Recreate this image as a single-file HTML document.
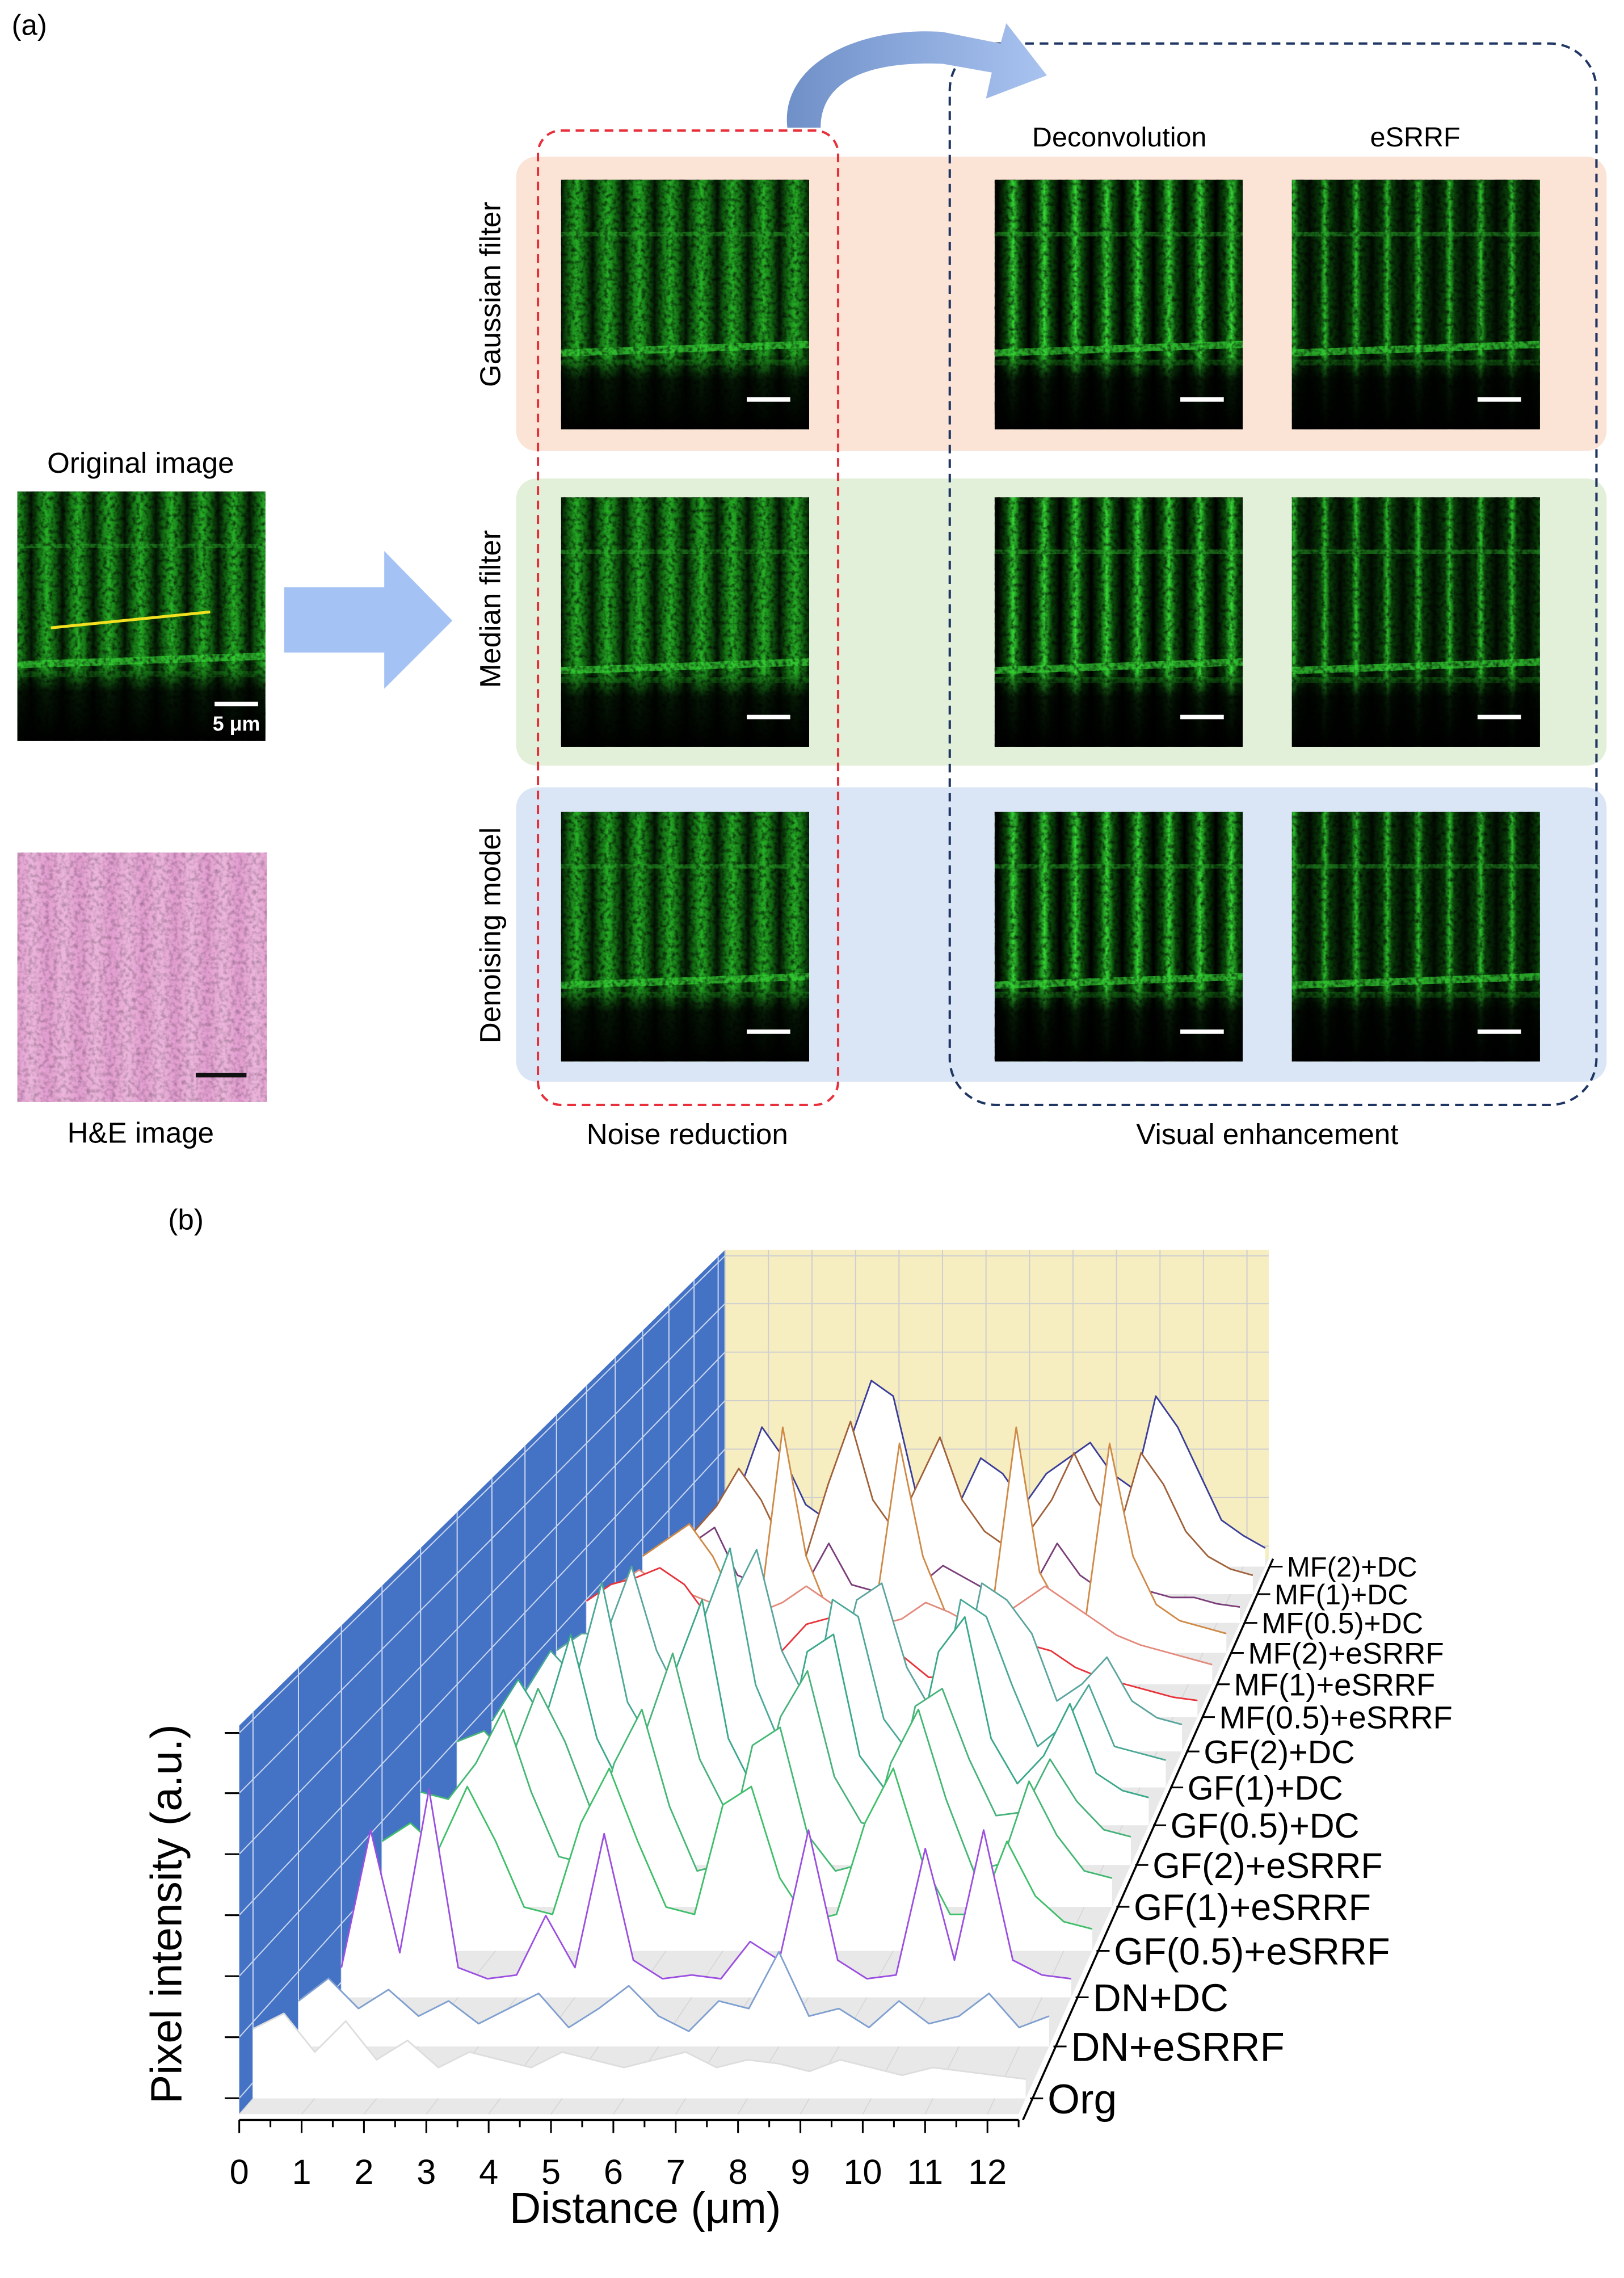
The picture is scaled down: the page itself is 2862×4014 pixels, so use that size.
<!DOCTYPE html>
<html><head><meta charset="utf-8"><style>
html,body{margin:0;padding:0;background:#fff;}
svg{display:block;}
</style></head><body>
<svg id="fig" xmlns="http://www.w3.org/2000/svg" width="2862" height="4014" viewBox="0 0 1120 1571" preserveAspectRatio="none" font-family="'Liberation Sans', sans-serif">
<defs>
  <linearGradient id="stripeG" gradientUnits="userSpaceOnUse" x1="0" y1="0" x2="21.5" y2="0" spreadMethod="repeat">
    <stop offset="0" stop-color="#041604"/><stop offset="0.25" stop-color="#136a13"/><stop offset="0.5" stop-color="#26b026"/><stop offset="0.75" stop-color="#136a13"/><stop offset="1" stop-color="#041604"/>
  </linearGradient>
  <linearGradient id="stripeB" gradientUnits="userSpaceOnUse" x1="0" y1="0" x2="21.5" y2="0" spreadMethod="repeat">
    <stop offset="0" stop-color="#000"/><stop offset="0.3" stop-color="#0c500c"/><stop offset="0.5" stop-color="#35d835"/><stop offset="0.7" stop-color="#0c500c"/><stop offset="1" stop-color="#000"/>
  </linearGradient>
  <linearGradient id="stripeT" gradientUnits="userSpaceOnUse" x1="0" y1="0" x2="21.5" y2="0" spreadMethod="repeat">
    <stop offset="0" stop-color="#020c02"/><stop offset="0.35" stop-color="#0a400a"/><stop offset="0.5" stop-color="#2cc02c"/><stop offset="0.65" stop-color="#0a400a"/><stop offset="1" stop-color="#020c02"/>
  </linearGradient>
  <linearGradient id="bottomDark" x1="0" y1="0" x2="0" y2="1">
    <stop offset="0" stop-color="#000" stop-opacity="0"/><stop offset="0.7" stop-color="#000" stop-opacity="0"/><stop offset="0.8" stop-color="#000" stop-opacity="0.85"/><stop offset="1" stop-color="#000" stop-opacity="1"/>
  </linearGradient>
  <linearGradient id="heStripe" gradientUnits="userSpaceOnUse" x1="0" y1="0" x2="22" y2="0" spreadMethod="repeat">
    <stop offset="0" stop-color="#ebb2da"/><stop offset="0.5" stop-color="#dc8dc8"/><stop offset="1" stop-color="#ebb2da"/>
  </linearGradient>
  <linearGradient id="arrowG" x1="0" y1="0" x2="1" y2="0">
    <stop offset="0" stop-color="#6f90c8"/><stop offset="1" stop-color="#a9c3f0"/>
  </linearGradient>
  <filter id="noise" x="0" y="0" width="100%" height="100%">
    <feTurbulence type="fractalNoise" baseFrequency="0.35" numOctaves="2" seed="3"/>
    <feColorMatrix values="0 0 0 0 0  0 0 0 0 0  0 0 0 0 0  2.2 0 0 0 -0.9"/>
  </filter>
</defs>

<text x="8" y="24" font-size="20">(a)</text>

<rect x="356" y="108" width="752" height="203" rx="14" fill="#fbe3d6"/>
<rect x="356" y="330" width="752" height="198" rx="14" fill="#e2efd9"/>
<rect x="356" y="543" width="752" height="203" rx="14" fill="#dae6f5"/>

<g id="tiles"></g>

<rect x="371" y="90" width="207" height="672" rx="16" fill="none" stroke="#e8303a" stroke-width="1.6" stroke-dasharray="6,4"/>
<rect x="655" y="30" width="446" height="732" rx="32" fill="none" stroke="#1f3563" stroke-width="1.6" stroke-dasharray="6,4"/>

<path d="M543,88 C538,45 590,18 650,22 L690,30 L694,16 L722,52 L680,68 L684,50 L650,44 C600,42 566,55 566,88 Z" fill="url(#arrowG)"/>
<polygon points="196,405 265,405 265,380 312,428 265,475 265,450 196,450" fill="#a4c2f4"/>

<text x="772" y="101" font-size="19" text-anchor="middle">Deconvolution</text>
<text x="976" y="101" font-size="19" text-anchor="middle">eSRRF</text>
<text transform="translate(345,203) rotate(-90)" font-size="20" text-anchor="middle">Gaussian filter</text>
<text transform="translate(345,420) rotate(-90)" font-size="20" text-anchor="middle">Median filter</text>
<text transform="translate(345,645) rotate(-90)" font-size="20" text-anchor="middle">Denoising model</text>
<text x="474" y="789" font-size="20" text-anchor="middle">Noise reduction</text>
<text x="874" y="789" font-size="20" text-anchor="middle">Visual enhancement</text>
<text x="97" y="326" font-size="20" text-anchor="middle">Original image</text>
<text x="97" y="788" font-size="20" text-anchor="middle">H&amp;E image</text>

<g>
  <rect x="12" y="588" width="172" height="172" fill="url(#heStripe)"/>
  <rect x="12" y="588" width="172" height="172" fill="#f0c0e0" opacity="0.3"/>
  <rect x="12" y="588" width="172" height="172" fill="#b04090" filter="url(#noise)" opacity="0.25"/>
  <rect x="135" y="740" width="35" height="3" fill="#111"/>
</g>

<text x="125" y="1320" font-size="30" text-anchor="middle" transform="rotate(-90 125 1320)">Pixel intensity (a.u.)</text>
<text x="445" y="1533" font-size="30" text-anchor="middle">Distance (μm)</text>
<text x="116" y="848" font-size="20">(b)</text>

<g id="chart"></g>

<script>
// ---------- chart data ----------
const seriesNames = ["Org","DN+eSRRF","DN+DC","GF(0.5)+eSRRF","GF(1)+eSRRF","GF(2)+eSRRF","GF(0.5)+DC","GF(1)+DC","GF(2)+DC","MF(0.5)+eSRRF","MF(1)+eSRRF","MF(2)+eSRRF","MF(0.5)+DC","MF(1)+DC","MF(2)+DC"];
const seriesColors = ["#dddddd","#7f9fd0","#9b4fe0","#3fbf6a","#43b873","#47b27a","#3aa88a","#4aa897","#5aa59e","#e8333a","#e38a7c","#cf8a48","#7a3d7a","#a0603a","#3a3d9a"];
const xTicks = [0,1,2,3,4,5,6,7,8,9,10,11,12];
const xStep = 0.5;
const sOrg = [0.18,0.22,0.12,0.2,0.1,0.15,0.08,0.12,0.1,0.08,0.12,0.1,0.08,0.1,0.12,0.08,0.1,0.09,0.07,0.1,0.08,0.06,0.08,0.07,0.06,0.05];
const sDnE = [0.12,0.18,0.1,0.15,0.08,0.12,0.06,0.1,0.14,0.05,0.1,0.16,0.08,0.04,0.12,0.1,0.25,0.08,0.1,0.05,0.12,0.06,0.08,0.14,0.05,0.08];
const sDnDC = [0.08,0.45,0.12,0.56,0.08,0.05,0.06,0.22,0.08,0.44,0.1,0.05,0.06,0.05,0.15,0.1,0.45,0.1,0.05,0.06,0.4,0.1,0.45,0.1,0.06,0.05];
const sGf05E = [0.3,0.35,0.28,0.45,0.3,0.12,0.1,0.35,0.5,0.3,0.12,0.1,0.4,0.45,0.2,0.08,0.1,0.35,0.5,0.25,0.1,0.1,0.3,0.15,0.08,0.06];
const sGf1E = [0.32,0.3,0.4,0.55,0.32,0.14,0.12,0.4,0.55,0.28,0.1,0.12,0.45,0.5,0.2,0.1,0.12,0.4,0.55,0.3,0.1,0.12,0.35,0.2,0.1,0.08];
const sGf2E = [0.35,0.38,0.3,0.5,0.35,0.15,0.14,0.38,0.6,0.3,0.15,0.12,0.42,0.55,0.25,0.12,0.1,0.45,0.5,0.3,0.14,0.15,0.3,0.18,0.1,0.08];
const sGf05DC = [0.3,0.42,0.3,0.55,0.25,0.1,0.15,0.45,0.65,0.25,0.1,0.15,0.5,0.55,0.2,0.1,0.15,0.5,0.6,0.25,0.12,0.2,0.35,0.15,0.1,0.08];
const sGf1DC = [0.28,0.4,0.32,0.6,0.25,0.12,0.14,0.5,0.7,0.3,0.12,0.14,0.55,0.5,0.2,0.1,0.16,0.55,0.5,0.3,0.12,0.18,0.3,0.12,0.1,0.08];
const sGf2DC = [0.3,0.35,0.35,0.55,0.3,0.15,0.15,0.45,0.6,0.3,0.15,0.15,0.45,0.5,0.25,0.12,0.14,0.5,0.45,0.35,0.15,0.2,0.28,0.15,0.1,0.08];
const sMf05E = [0.35,0.4,0.42,0.45,0.4,0.3,0.2,0.18,0.2,0.28,0.3,0.3,0.25,0.18,0.12,0.12,0.2,0.22,0.22,0.2,0.15,0.12,0.1,0.08,0.06,0.05];
const sMf1E = [0.3,0.35,0.3,0.28,0.25,0.2,0.22,0.25,0.3,0.25,0.2,0.18,0.2,0.25,0.22,0.18,0.2,0.25,0.3,0.25,0.2,0.15,0.12,0.1,0.08,0.06];
const sMf2E = [0.3,0.35,0.4,0.3,0.15,0.12,0.7,0.3,0.12,0.1,0.15,0.65,0.3,0.12,0.1,0.15,0.7,0.25,0.12,0.12,0.65,0.3,0.15,0.1,0.08,0.06];
const sMf05DC = [0.2,0.25,0.3,0.15,0.12,0.1,0.12,0.25,0.12,0.1,0.1,0.12,0.18,0.14,0.1,0.1,0.12,0.25,0.15,0.1,0.12,0.1,0.08,0.08,0.06,0.05];
const sMf1DC = [0.2,0.28,0.4,0.3,0.15,0.12,0.35,0.55,0.3,0.2,0.35,0.5,0.3,0.2,0.15,0.2,0.3,0.45,0.3,0.2,0.45,0.35,0.2,0.12,0.08,0.06];
const sMf2DC = [0.2,0.25,0.45,0.35,0.2,0.15,0.4,0.6,0.55,0.25,0.15,0.2,0.35,0.3,0.2,0.3,0.35,0.4,0.3,0.25,0.55,0.45,0.3,0.15,0.1,0.06];
const seriesData = [sOrg,sDnE,sDnDC,sGf05E,sGf1E,sGf2E,sGf05DC,sGf1DC,sGf2DC,sMf05E,sMf1E,sMf2E,sMf05DC,sMf1DC,sMf2DC];

const NS = "http://www.w3.org/2000/svg";
function mk(tag, attrs, parent){const e=document.createElementNS(NS,tag);for(const k in attrs)e.setAttribute(k,attrs[k]);parent.appendChild(e);return e;}

const XMAX = 12.5;
function persp(z){const r=0.7;return z/(z+(1-z)*r);}
function lerp(a,b,t){return a+(b-a)*t;}
function P(x,z,h){const s=persp(z);return [lerp(165,500,s)+x*lerp(43,30,s), lerp(1458,1075,s)-h*lerp(268,213,s)];}
function zOf(i){return 0.02+i*(0.96/14);}

const chart=document.getElementById('chart');
const wall=mk('polygon',{points:[P(0,0,0),P(0,0,1),P(0,1,1),P(0,1,0)].map(p=>p.join(',')).join(' '),fill:'#4472c4'},chart);


const back=mk('polygon',{points:[P(0,1,0),P(0,1,1),P(XMAX,1,1),P(XMAX,1,0)].map(p=>p.join(',')).join(' '),fill:'#f6edc0'},chart);


const floor=mk('polygon',{points:[P(0,0,0),P(XMAX,0,0),P(XMAX,1,0),P(0,1,0)].map(p=>p.join(',')).join(' '),fill:'#e8e8e8'},chart);


const yTickH=[0.041,0.198,0.355,0.512,0.669,0.826,0.981];
const grid=mk('g',{},chart);


yTickH.forEach(h=>{
  const a=P(0,0,h),b=P(0,1,h),c=P(XMAX,1,h);
  mk('line',{x1:a[0],y1:a[1],x2:b[0],y2:b[1],stroke:'#c9d6f0','stroke-width':0.8},grid);
  mk('line',{x1:b[0],y1:b[1],x2:c[0],y2:c[1],stroke:'#cfcfcf','stroke-width':0.8},grid);
});
for(let i=0;i<15;i++){const a=P(0,zOf(i),0),b=P(0,zOf(i),1);mk('line',{x1:a[0],y1:a[1],x2:b[0],y2:b[1],stroke:'#c9d6f0','stroke-width':0.8},grid);}
for(let x=0;x<=XMAX;x+=1){const a=P(x,1,0),b=P(x,1,1),c=P(x,0,0);
  mk('line',{x1:a[0],y1:a[1],x2:b[0],y2:b[1],stroke:'#cfcfcf','stroke-width':0.8},grid);
  mk('line',{x1:a[0],y1:a[1],x2:c[0],y2:c[1],stroke:'#d4d4d4','stroke-width':0.6},grid);}

for(let i=14;i>=0;i--){
  const z=zOf(i), d=seriesData[i];
  const pts=d.map((v,k)=>P(k*xStep,z,v));
  const b0=P(0,z,0), b1=P((d.length-1)*xStep,z,0);
  const g=mk('g',{},chart);
  
  
  mk('polygon',{points:[b0,...pts,b1].map(p=>p.join(',')).join(' '),fill:'#ffffff'},g);
  mk('polyline',{points:pts.map(p=>p.join(',')).join(' '),fill:'none',stroke:seriesColors[i],'stroke-width':1.1,'stroke-linejoin':'round'},g);
}
yTickH.forEach(h=>{const a=P(0,0,h);const t=mk('line',{x1:a[0]-10,y1:a[1],x2:a[0],y2:a[1],stroke:'#000','stroke-width':1.2},chart);
  
  });
const xa0=P(0,0,0),xa1=P(XMAX,0,0);
const xl=mk('line',{x1:xa0[0],y1:xa0[1]+4,x2:xa1[0],y2:xa1[1]+4,stroke:'#000','stroke-width':1.4},chart);


for(let x=0;x<=XMAX;x+=0.5){const p=P(x,0,0);mk('line',{x1:p[0],y1:p[1]+4,x2:p[0],y2:p[1]+(x%1===0?13:9),stroke:'#000','stroke-width':1.2},chart);}
xTicks.forEach(v=>{const p=P(v,0,0);const t=mk('text',{x:p[0],y:p[1]+48,'font-size':24,'text-anchor':'middle'},chart);t.textContent=v;
  
  });
const d0=P(XMAX,0,0),d1=P(XMAX,1,0);
const dl=mk('line',{x1:d0[0]+3,y1:d0[1]+4,x2:d1[0]+3,y2:d1[1],stroke:'#000','stroke-width':1.4},chart);


for(let i=0;i<15;i++){const p=P(XMAX,zOf(i),0);const s=persp(zOf(i));const fs=lerp(29,19,s);
  mk('line',{x1:p[0]+3,y1:p[1],x2:p[0]+12,y2:p[1],stroke:'#000','stroke-width':1.2},chart);
  const t=mk('text',{x:p[0]+15,y:p[1]+fs*0.36,'font-size':fs},chart);t.textContent=seriesNames[i];
  
  }

// ---------- image tiles ----------
const tiles=document.getElementById('tiles');
const cols=[[387,'stripeG'],[686,'stripeB'],[891,'stripeT']];
const rows=[124,343,560];
function tile(x,y,fill,name,bar){
  const g=mk('g',{},tiles);
  
  
  mk('rect',{x:x,y:y,width:171,height:172,fill:'#000'},g);
  mk('rect',{x:x,y:y,width:171,height:172,fill:'url(#'+fill+')'},g);
  mk('rect',{x:x,y:y+36,width:171,height:3,fill:'#2aa82a',opacity:0.5},g);
  mk('rect',{x:x,y:y+114,width:171,height:5,fill:'#34d034',opacity:0.75,transform:'rotate(-2 '+(x+85)+' '+(y+116)+')'},g);
  mk('rect',{x:x,y:y+124,width:171,height:4,fill:'#20a020',opacity:0.5},g);
  mk('rect',{x:x,y:y,width:171,height:172,fill:'#000',filter:'url(#noise)',opacity:0.7},g);
  mk('rect',{x:x,y:y,width:171,height:172,fill:'url(#bottomDark)'},g);
  if(bar) mk('rect',{x:x+128,y:y+150,width:30,height:3,fill:'#fff'},g);
}
rows.forEach((ry,ri)=>cols.forEach((c,ci)=>tile(c[0],ry,c[1],'image-tile-r'+(ri+1)+'-c'+(ci+1),true)));
tile(12,339,'stripeG','original-image',false);
const yl=mk('line',{x1:35,y1:433,x2:145,y2:422,stroke:'#f0e020','stroke-width':2},tiles);


mk('rect',{x:148,y:484,width:30,height:3,fill:'#fff'},tiles);
const sb=mk('text',{x:163,y:504,'font-size':14,'font-weight':'bold',fill:'#fff','text-anchor':'middle'},tiles);sb.textContent='5 μm';


</script>
</svg>
</body></html>
